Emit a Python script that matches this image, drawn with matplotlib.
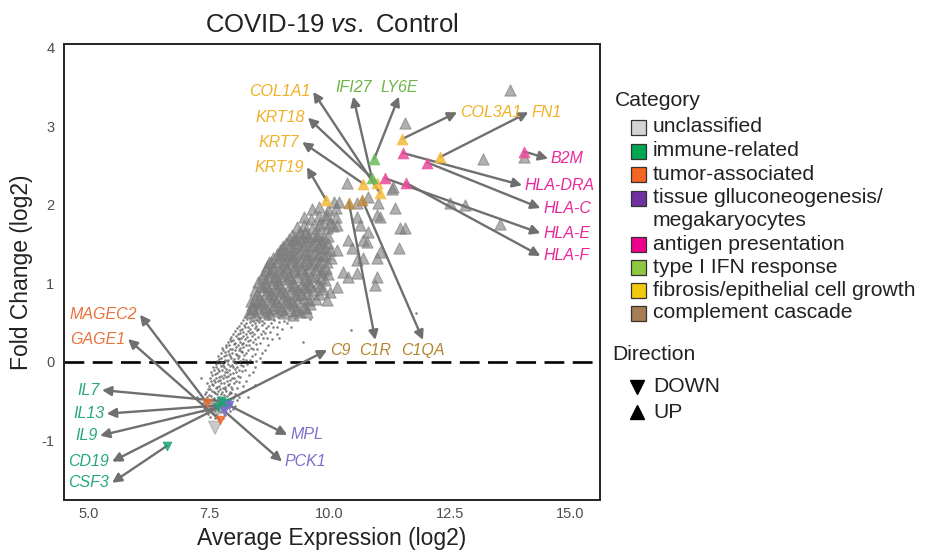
import matplotlib
matplotlib.use("Agg")
import matplotlib.pyplot as plt
from matplotlib.patches import Rectangle
from matplotlib.lines import Line2D

plt.rcParams['font.family'] = ['Liberation Sans', 'DejaVu Sans']
plt.rcParams['mathtext.fontset'] = 'custom'
plt.rcParams['mathtext.it'] = 'Liberation Sans:italic'
plt.rcParams['mathtext.rm'] = 'Liberation Sans'

# ---------------- data ----------------
categories = ["unclassified", "immune-related", "tumor-associated",
              "tissue glluconeogenesis/\nmegakaryocytes", "antigen presentation",
              "type I IFN response", "fibrosis/epithelial cell growth",
              "complement cascade"]
legend_colors = ['#d3d3d3', '#00a651', '#f26522', '#7030a0', '#ec008c',
                 '#8dc63f', '#f2c80f', '#a67c52']
marker_colors = ['#808080', '#1ba27a', '#ee6a2c', '#7b6cd0', '#ec4a9c',
                 '#6dbb5a', '#f4bb3a', '#c08c3c']
label_colors = ['#808080', '#27a77c', '#e9733c', '#7c70cc', '#e8289a',
                '#6fb544', '#f0b126', '#b58530']
directions = ["DOWN", "UP"]

# non-significant genes (small dots)
dot_x = [7.52, 7.61, 7.66, 7.79,
         7.47, 7.58, 7.63, 7.74, 7.83,
         7.44, 7.51, 7.62, 7.67, 7.70, 7.81, 7.92,
         7.39, 7.54, 7.58, 7.69, 7.77, 7.86, 7.99,
         7.42, 7.47, 7.60, 7.64, 7.73, 7.79, 7.84, 7.96, 8.03,
         7.36, 7.50, 7.55, 7.66, 7.71, 7.75, 7.88, 7.94,
         7.40, 7.44, 7.57, 7.62, 7.68, 7.80, 7.83, 7.91, 8.07,
         7.46, 7.53, 7.59, 7.70, 7.77, 7.86, 7.99, 8.12,
         7.41, 7.49, 7.61, 7.65, 7.74, 7.81, 7.90, 7.95, 8.04,
         7.44, 7.55, 7.60, 7.69, 7.76, 7.85, 7.93, 8.17,
         7.47, 7.52, 7.63, 7.72, 7.79, 7.83, 7.98, 8.08,
         7.50, 7.58, 7.66, 7.70, 7.82, 7.88, 7.96, 8.20,
         7.45, 7.55, 7.62, 7.75, 7.80, 7.91, 8.02, 8.11,
         7.53, 7.59, 7.68, 7.73, 7.86, 7.94, 8.06, 8.27,
         7.51, 7.63, 7.71, 7.78, 7.84, 7.97, 8.01, 8.14,
         7.56, 7.61, 7.74, 7.80, 7.89, 7.93, 8.09, 8.33,
         7.54, 7.66, 7.70, 7.82, 7.87, 7.99, 8.05, 8.18, 8.40,
         7.60, 7.69, 7.77, 7.85, 7.91, 8.03, 8.12, 8.24,
         7.58, 7.64, 7.75, 7.81, 7.94, 8.00, 8.08, 8.21, 8.44,
         7.63, 7.72, 7.79, 7.88, 7.97, 8.06, 8.15, 8.29,
         7.66, 7.76, 7.83, 7.86, 7.99, 8.04, 8.13, 8.26, 8.47,
         7.70, 7.74, 7.89, 7.95, 8.02, 8.10, 8.19, 8.34, 8.55,
         7.68, 7.80, 7.85, 7.93, 8.07, 8.12, 8.23, 8.38,
         7.75, 7.83, 7.91, 7.98, 8.05, 8.17, 8.27, 8.45, 8.60,
         7.79, 7.88, 7.92, 8.03, 8.11, 8.15, 8.30, 8.41, 8.66,
         7.77, 7.85, 7.97, 8.06, 8.13, 8.21, 8.36, 8.50,
         7.84, 7.90, 8.01, 8.09, 8.18, 8.26, 8.33, 8.48, 8.72,
         7.88, 7.96, 8.04, 8.14, 8.20, 8.31, 8.40, 8.56,
         7.92, 8.00, 8.09, 8.12, 8.24, 8.35, 8.46, 8.61, 8.80,
         7.95, 8.06, 8.16, 8.21, 8.29, 8.38, 8.52, 8.70,
         8.00, 8.09, 8.13, 8.26, 8.34, 8.43, 8.57, 8.66, 8.91,
         8.04, 8.14, 8.20, 8.31, 8.38, 8.49, 8.62, 8.77,
         8.08, 8.17, 8.25, 8.35, 8.44, 8.52, 8.68, 8.83, 9.02,
         8.12, 8.22, 8.30, 8.39, 8.48, 8.59, 8.73, 8.90,
         8.15, 8.26, 8.34, 8.45, 8.54, 8.63, 8.79, 8.95, 9.12,
         8.20, 8.29, 8.41, 8.50, 8.60, 8.71, 8.85, 9.05,
         8.24, 8.35, 8.46, 8.55, 8.65, 8.76, 8.92, 9.16, 9.28,
         8.28, 8.39, 8.51, 8.62, 8.72, 8.83, 8.99, 9.22,
         8.33, 8.44, 8.57, 8.68, 8.78, 8.90, 9.08, 9.35,
         7.25, 7.32, 8.45, 8.60, 8.95, 9.20, 9.60, 9.45, 10.45, 11.80, 7.35, 8.30]
dot_y = [-0.70, -0.72, -0.69, -0.71,
         -0.66, -0.65, -0.67, -0.64, -0.68,
         -0.62, -0.61, -0.63, -0.60, -0.625, -0.615, -0.63,
         -0.59, -0.58, -0.60, -0.585, -0.595, -0.575, -0.60,
         -0.55, -0.56, -0.54, -0.555, -0.545, -0.565, -0.55, -0.54, -0.56,
         -0.52, -0.51, -0.53, -0.515, -0.525, -0.51, -0.53, -0.52,
         -0.48, -0.49, -0.47, -0.485, -0.475, -0.49, -0.48, -0.47, -0.485,
         -0.45, -0.44, -0.46, -0.445, -0.455, -0.44, -0.46, -0.45,
         -0.41, -0.42, -0.40, -0.415, -0.405, -0.42, -0.41, -0.40, -0.415,
         -0.38, -0.37, -0.39, -0.375, -0.385, -0.37, -0.39, -0.38,
         -0.34, -0.35, -0.33, -0.345, -0.335, -0.35, -0.34, -0.33,
         -0.31, -0.30, -0.32, -0.305, -0.315, -0.30, -0.32, -0.31,
         -0.27, -0.28, -0.26, -0.275, -0.265, -0.28, -0.27, -0.26,
         -0.24, -0.23, -0.25, -0.235, -0.245, -0.23, -0.25, -0.24,
         -0.20, -0.21, -0.19, -0.205, -0.195, -0.21, -0.20, -0.19,
         -0.17, -0.16, -0.18, -0.165, -0.175, -0.16, -0.18, -0.17,
         -0.13, -0.14, -0.12, -0.135, -0.125, -0.14, -0.13, -0.12, -0.135,
         -0.10, -0.09, -0.11, -0.095, -0.105, -0.09, -0.11, -0.10,
         -0.06, -0.07, -0.05, -0.065, -0.055, -0.07, -0.06, -0.05, -0.065,
         -0.03, -0.02, -0.04, -0.025, -0.035, -0.02, -0.04, -0.03,
         0.01, 0.00, 0.02, 0.005, 0.015, 0.00, 0.01, 0.02, 0.005,
         0.04, 0.05, 0.03, 0.045, 0.035, 0.05, 0.04, 0.03, 0.045,
         0.08, 0.07, 0.09, 0.075, 0.085, 0.07, 0.09, 0.08,
         0.11, 0.12, 0.10, 0.115, 0.105, 0.12, 0.11, 0.10, 0.115,
         0.15, 0.14, 0.16, 0.145, 0.155, 0.14, 0.15, 0.16, 0.145,
         0.18, 0.19, 0.17, 0.185, 0.175, 0.19, 0.18, 0.17,
         0.22, 0.21, 0.23, 0.215, 0.225, 0.21, 0.22, 0.23, 0.215,
         0.25, 0.26, 0.24, 0.255, 0.245, 0.26, 0.25, 0.24,
         0.29, 0.28, 0.30, 0.285, 0.295, 0.28, 0.29, 0.30, 0.285,
         0.32, 0.33, 0.31, 0.325, 0.315, 0.33, 0.32, 0.31,
         0.36, 0.35, 0.37, 0.355, 0.365, 0.35, 0.36, 0.37, 0.355,
         0.39, 0.40, 0.38, 0.395, 0.385, 0.40, 0.39, 0.38,
         0.43, 0.42, 0.44, 0.425, 0.435, 0.42, 0.43, 0.44, 0.425,
         0.46, 0.47, 0.45, 0.465, 0.455, 0.47, 0.46, 0.45,
         0.50, 0.49, 0.51, 0.495, 0.505, 0.49, 0.50, 0.51, 0.495,
         0.53, 0.54, 0.52, 0.535, 0.525, 0.54, 0.53, 0.52,
         0.57, 0.56, 0.58, 0.565, 0.575, 0.56, 0.57, 0.58, 0.565,
         0.60, 0.61, 0.59, 0.605, 0.595, 0.61, 0.60, 0.59,
         0.64, 0.63, 0.65, 0.635, 0.645, 0.63, 0.64, 0.65,
         -0.45, -0.20, -0.30, 0.00, 0.30, 0.45, 0.55, 0.25, 0.40, 0.62, -0.62, -0.45]

# significant, unclassified, UP (gray triangles)
up_x = [8.33, 8.44, 8.63, 8.75, 8.94, 9.05, 9.24, 9.38,
        8.41, 8.52, 8.71, 8.82, 9.01, 9.17, 9.31, 9.52,
        8.38, 8.57, 8.66, 8.85, 8.95, 9.13, 9.26, 9.47, 9.60,
        8.36, 8.49, 8.60, 8.79, 8.88, 9.07, 9.22, 9.35, 9.57,
        8.44, 8.56, 8.74, 8.84, 9.03, 9.14, 9.33, 9.46, 9.71,
        8.50, 8.68, 8.78, 8.96, 9.08, 9.25, 9.41, 9.56, 9.79,
        8.46, 8.62, 8.73, 8.91, 9.02, 9.21, 9.34, 9.53, 9.66, 9.86,
        8.57, 8.69, 8.86, 8.97, 9.15, 9.27, 9.46, 9.60, 9.81,
        8.51, 8.65, 8.82, 8.93, 9.11, 9.23, 9.42, 9.55, 9.75, 9.91,
        8.60, 8.71, 8.89, 9.00, 9.18, 9.33, 9.48, 9.67, 9.83,
        8.62, 8.76, 8.86, 9.04, 9.16, 9.30, 9.49, 9.61, 9.82, 9.97,
        8.67, 8.81, 8.97, 9.09, 9.25, 9.40, 9.54, 9.72, 9.87,
        8.70, 8.84, 8.99, 9.11, 9.28, 9.43, 9.58, 9.74, 9.92,
        8.78, 8.91, 9.06, 9.21, 9.34, 9.50, 9.63, 9.81, 9.95,
        8.83, 8.97, 9.12, 9.24, 9.41, 9.53, 9.72, 9.87, 10.03,
        8.91, 9.04, 9.19, 9.31, 9.48, 9.61, 9.79, 9.93,
        8.96, 9.10, 9.22, 9.39, 9.52, 9.69, 9.83, 10.01,
        9.03, 9.17, 9.31, 9.44, 9.61, 9.76, 9.91,
        9.09, 9.24, 9.35, 9.52, 9.65, 9.82, 9.96,
        9.16, 9.28, 9.44, 9.57, 9.74, 9.88,
        9.21, 9.35, 9.48, 9.65, 9.79, 9.97,
        9.33, 9.46, 9.63, 9.77, 9.95, 10.07,
        9.47, 9.61, 9.79, 9.93, 10.13,
        9.63, 9.77, 9.97, 10.13,
        10.36, 10.09, 10.20, 10.57, 10.80, 11.00, 11.30, 11.36, 11.05, 10.57,
        10.63, 10.80, 10.78, 10.38, 10.47, 10.16, 10.70, 10.57, 11.05, 10.99,
        10.95, 10.57, 10.28, 10.38, 10.16, 10.01, 9.95, 9.53, 9.32, 8.39,
        8.74, 9.01, 9.39, 9.49, 9.74, 9.95, 10.01, 10.16, 9.80, 11.47,
        11.57, 11.44, 10.99, 10.70, 13.75, 11.57, 13.19, 14.04, 12.51, 12.82,
        13.54, 11.32, 10.99]
up_y = [0.63, 0.60, 0.64, 0.61, 0.65, 0.62, 0.60, 0.63,
        0.67, 0.68, 0.66, 0.69, 0.67, 0.68, 0.66, 0.68,
        0.72, 0.74, 0.70, 0.73, 0.71, 0.75, 0.72, 0.70, 0.74,
        0.77, 0.78, 0.76, 0.79, 0.77, 0.76, 0.78, 0.77, 0.79,
        0.82, 0.80, 0.84, 0.81, 0.83, 0.80, 0.85, 0.82, 0.80,
        0.87, 0.88, 0.86, 0.89, 0.87, 0.88, 0.86, 0.88, 0.87,
        0.92, 0.95, 0.91, 0.93, 0.90, 0.94, 0.92, 0.95, 0.91, 0.93,
        0.97, 0.98, 0.96, 0.99, 0.97, 0.98, 0.96, 0.98, 0.97,
        1.02, 1.00, 1.04, 1.01, 1.05, 1.02, 0.99, 1.03, 1.01, 1.04,
        1.07, 1.08, 1.06, 1.09, 1.07, 1.08, 1.06, 1.08, 1.07,
        1.12, 1.15, 1.10, 1.13, 1.11, 1.14, 1.12, 1.10, 1.15, 1.12,
        1.17, 1.18, 1.16, 1.19, 1.17, 1.18, 1.16, 1.18, 1.17,
        1.22, 1.20, 1.24, 1.21, 1.23, 1.20, 1.25, 1.22, 1.20,
        1.27, 1.28, 1.26, 1.29, 1.27, 1.28, 1.26, 1.28, 1.27,
        1.32, 1.35, 1.31, 1.34, 1.30, 1.33, 1.31, 1.35, 1.32,
        1.37, 1.38, 1.36, 1.39, 1.37, 1.38, 1.36, 1.38,
        1.42, 1.40, 1.44, 1.41, 1.43, 1.40, 1.45, 1.42,
        1.47, 1.48, 1.46, 1.49, 1.47, 1.48, 1.46,
        1.52, 1.55, 1.51, 1.54, 1.50, 1.53, 1.51,
        1.57, 1.58, 1.56, 1.59, 1.57, 1.58,
        1.62, 1.60, 1.64, 1.61, 1.63, 1.60,
        1.72, 1.75, 1.71, 1.74, 1.70, 1.73,
        1.84, 1.82, 1.86, 1.83, 1.85,
        1.95, 1.97, 1.94, 1.96,
        2.28, 2.04, 2.04, 2.03, 2.10, 2.03, 2.20, 1.96, 1.85, 1.85,
        1.75, 1.66, 1.53, 1.55, 1.45, 1.43, 1.32, 1.30, 1.40, 1.08,
        0.98, 1.13, 1.15, 1.08, 0.96, 0.89, 0.79, 0.64, 0.66, 0.69,
        1.27, 1.44, 1.66, 1.66, 1.62, 1.87, 1.77, 1.75, 1.77, 1.71,
        1.71, 1.45, 1.32, 1.55, 3.46, 3.04, 2.59, 2.61, 2.03, 2.00,
        1.76, 2.23, 1.87]

# significant, unclassified, DOWN (gray)
down_x = [7.62, 7.55, 7.70]
down_y = [-0.84, -0.55, -0.62]

# labelled genes
genes = ["COL1A1", "KRT18", "KRT7", "KRT19", "COL3A1", "FN1", "IFI27", "LY6E",
         "B2M", "HLA-DRA", "HLA-C", "HLA-E", "HLA-F", "C1R", "C1QA", "C9",
         "MAGEC2", "GAGE1", "IL7", "IL13", "IL9", "CD19", "CSF3", "MPL", "PCK1"]
gene_x = [11.05, 10.99, 10.70, 9.93, 11.51, 12.30, 10.88, 10.93,
          14.04, 11.53, 12.03, 11.15, 11.59, 10.40, 10.68, 7.79,
          7.45, 7.72, 7.75, 7.82, 7.68, 7.86, 6.62, 7.90, 7.80]
gene_y = [2.15, 2.28, 2.27, 2.06, 2.84, 2.61, 2.34, 2.59,
          2.68, 2.66, 2.54, 2.34, 2.28, 2.03, 2.06, -0.52,
          -0.52, -0.74, -0.50, -0.55, -0.58, -0.53, -1.07, -0.55, -0.62]
gene_cat = [6, 6, 6, 6, 6, 6, 5, 5,
            4, 4, 4, 4, 4, 7, 7, 7,
            2, 2, 1, 1, 1, 1, 1, 3, 3]
gene_dir = ["UP"] * 15 + ["DOWN"] * 10
# arrow end points (label anchors)
label_x = [9.66, 9.55, 9.43, 9.53, 12.65, 14.13, 10.49, 11.44,
           14.54, 14.00, 14.38, 14.38, 14.38, 10.95, 11.94, 9.95,
           6.06, 5.81, 5.27, 5.37, 5.23, 5.48, 5.48, 9.12, 9.01]
label_y = [3.44, 3.11, 2.80, 2.48, 3.18, 3.18, 3.38, 3.38,
           2.59, 2.25, 1.96, 1.64, 1.35, 0.28, 0.28, 0.15,
           0.60, 0.29, -0.36, -0.66, -0.94, -1.27, -1.54, -0.93, -1.27]
label_side = ["L", "L", "L", "L", "R", "R", "T", "T",
              "R", "R", "R", "R", "R", "B", "B", "R",
              "L", "L", "L", "L", "L", "L", "L", "R", "R"]

# ---------------- figure ----------------
W, H = 927, 557
fig = plt.figure(figsize=(W / 100, H / 100), dpi=100)
ax = fig.add_axes([64 / W, 57 / H, 536 / W, 456 / H])
ax.set_xlim(4.48, 15.62)
ax.set_ylim(-1.76, 4.05)

ax.scatter(dot_x, dot_y, s=3.5, c='#555555', alpha=0.75, linewidths=0, zorder=2)
ax.scatter(up_x, up_y, marker='^', s=65, c='#808080', alpha=0.62,
           edgecolors='#7a7a7a', linewidths=0.8, zorder=2.5)
ax.scatter(down_x, down_y, marker='v', s=[90, 40, 40], c='#a8a8a8', alpha=0.6,
           edgecolors='#999999', linewidths=0.8, zorder=2.5)

ax.axhline(0, color='black', lw=1.9, ls=(0, (7.5, 3.2)), zorder=1.5)

offsets = {"L": ((-2, 0), 'right', 'center'), "R": ((2, 0), 'left', 'center'),
           "T": ((0, 1), 'center', 'bottom'), "B": ((0, -2), 'center', 'top')}
for g, gx, gy, c, d, lx, ly, side in zip(genes, gene_x, gene_y, gene_cat, gene_dir,
                                         label_x, label_y, label_side):
    ax.annotate('', xy=(lx, ly), xytext=(gx, gy),
                arrowprops=dict(arrowstyle='-|>,head_length=0.55,head_width=0.28',
                                color='#6f6f6f', lw=1.7, shrinkA=0, shrinkB=0,
                                mutation_scale=10), zorder=3)
    ax.scatter([gx], [gy], marker='^' if d == "UP" else 'v',
               s=60 if d == "UP" else 40, c=marker_colors[c], alpha=0.85,
               edgecolors=marker_colors[c], linewidths=0.6, zorder=4)
    (dx, dy), ha, va = offsets[side]
    ax.annotate(g, xy=(lx, ly), xytext=(dx, dy), textcoords='offset points',
                ha=ha, va=va, fontsize=11.5, style='italic',
                color=label_colors[c], zorder=5)

for sp in ax.spines.values():
    sp.set_linewidth(1.4)
    sp.set_color('#222222')
ax.set_xticks([5.0, 7.5, 10.0, 12.5, 15.0])
ax.set_xticklabels(["5.0", "7.5", "10.0", "12.5", "15.0"])
ax.set_yticks([-1, 0, 1, 2, 3, 4])
ax.set_yticklabels(["-1", "0", "1", "2", "3", "4"])
ax.tick_params(axis='both', length=0, labelsize=10.5, labelcolor='#4d4d4d')
ax.tick_params(axis='x', pad=5)
ax.tick_params(axis='y', pad=7)
ax.set_xlabel("Average Expression (log2)", fontsize=16.5, color='#222222', labelpad=4)
ax.set_ylabel("Fold Change (log2)", fontsize=16.5, color='#222222', labelpad=6)
ax.set_title("COVID-19 $\\mathit{vs.}$ Control", fontsize=18.5, color='#222222', pad=9)

# ---------------- legend (manual) ----------------
def fx(px):
    return px / W


def fy(py):
    return 1 - py / H


LEG_FS = 15.2
fig.text(fx(615), fy(100), "Category", fontsize=LEG_FS, color='#222222',
         ha='left', va='center')
row_y = [127, 151, 175, 198, 244, 267, 290, 313]
for cat, col, ry in zip(categories, legend_colors, row_y):
    fig.add_artist(Rectangle((fx(631), fy(ry + 7.5)), 15 / W, 15 / H,
                             transform=fig.transFigure, facecolor=col,
                             edgecolor='#333333', lw=0.9))
    if "\n" in cat:
        fig.text(fx(653), fy(ry - 10), cat, fontsize=LEG_FS, color='#222222',
                 ha='left', va='top', linespacing=1.25)
    else:
        fig.text(fx(653), fy(ry), cat, fontsize=LEG_FS, color='#222222',
                 ha='left', va='center')

fig.text(fx(612), fy(354), "Direction", fontsize=LEG_FS, color='#222222',
         ha='left', va='center')
dir_y = [387, 412]
for dname, dy_ in zip(directions, dir_y):
    fig.add_artist(Line2D([fx(637)], [fy(dy_)], marker='v' if dname == "DOWN" else '^',
                          markersize=10, color='black', linestyle='none',
                          transform=fig.transFigure))
    fig.text(fx(653), fy(dy_), dname, fontsize=LEG_FS, color='#222222',
             ha='left', va='center')

assert len(dot_x) == len(dot_y)
assert len(up_x) == len(up_y)
fig.savefig("out.png", dpi=100)
